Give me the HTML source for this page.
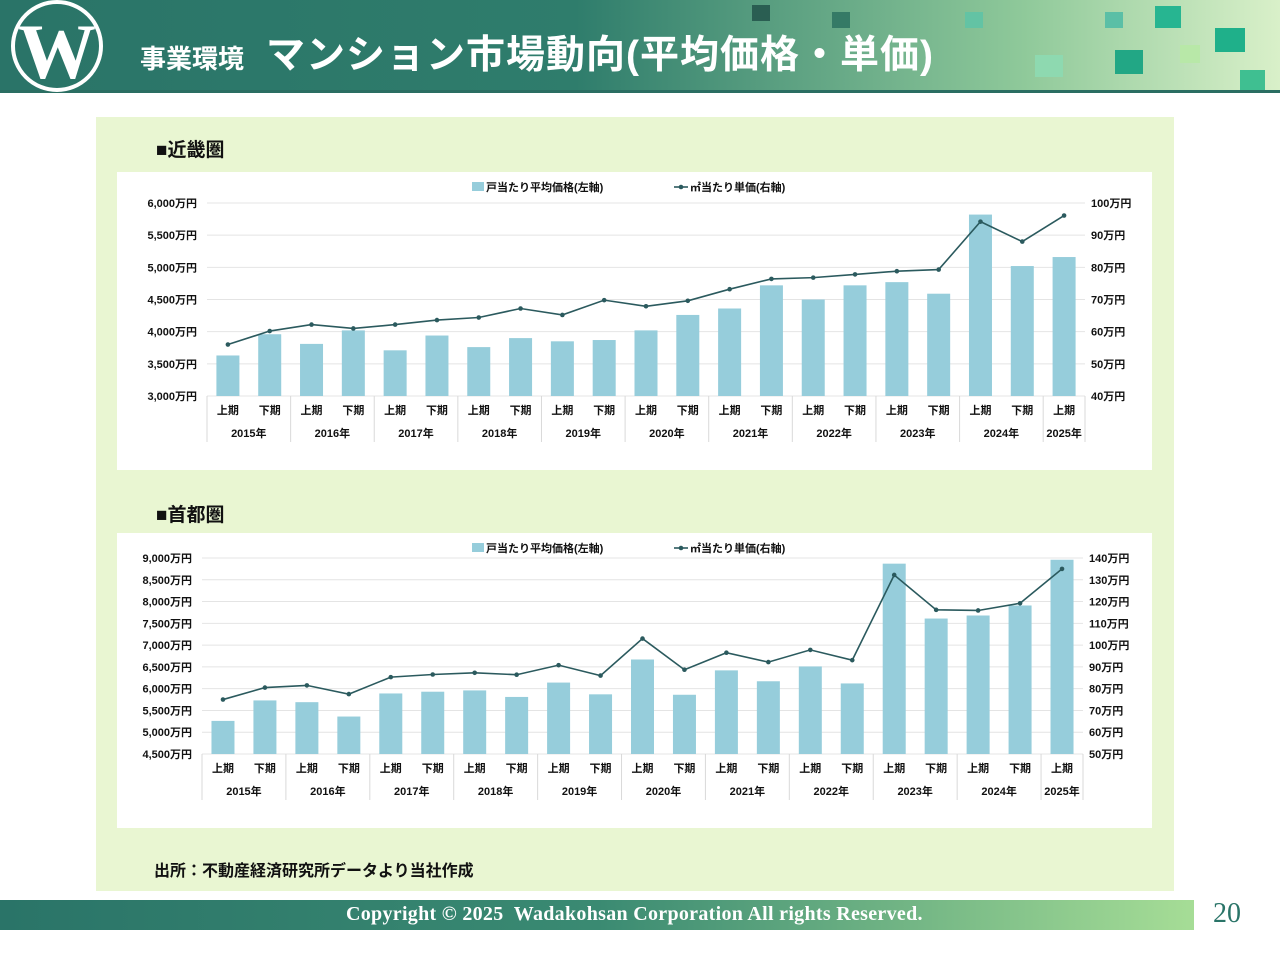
<!DOCTYPE html>
<html><head><meta charset="utf-8"><style>
body{margin:0;width:1280px;height:960px;position:relative;background:#fff;font-family:"Liberation Sans","Noto Sans CJK JP",sans-serif;overflow:hidden}
.hdr{position:absolute;left:0;top:0;width:1280px;height:92px;background:linear-gradient(90deg,#2a7468 0%,#2f7d6c 45%,#8fc99a 80%,#d9f0c9 100%)}
.hdr .line{position:absolute;left:0;top:90px;width:1280px;height:3px;background:#2a6e62}
.title{position:absolute;left:140px;top:24px;color:#fff;font-weight:bold;font-size:39px;white-space:nowrap;letter-spacing:1px}
.title small{font-size:26px;margin-right:22px;letter-spacing:0}
.sq{position:absolute}
.panel{position:absolute;left:96px;top:117px;width:1078px;height:774px;background:#e9f6d2}
.sec{position:absolute;font-weight:bold;font-size:19px;color:#111}
.card{position:absolute;background:#fff}
.foot{position:absolute;left:0;top:900px;width:1194px;height:30px;background:linear-gradient(90deg,#2a7468 0%,#3a8a72 50%,#a6dd96 100%)}
.foot span{position:absolute;left:346px;top:3px;color:#fff;font-family:"Liberation Serif",serif;font-weight:bold;font-size:20px;letter-spacing:0.3px;white-space:nowrap}
.pn{position:absolute;left:1213px;top:898px;font-family:"Liberation Serif",serif;font-size:28px;color:#2a7468}
svg text{font-family:"Liberation Sans","Noto Sans CJK JP",sans-serif;font-weight:bold;font-size:11px;fill:#111}
</style></head><body>
<div class="hdr">
<div class="line"></div>
<svg width="110" height="92" style="position:absolute;left:5px;top:0"><circle cx="52" cy="46" r="44" fill="none" stroke="#fff" stroke-width="4"/><text x="52" y="78" text-anchor="middle" style="font-family:'Liberation Serif',serif;font-size:78px;fill:#fff;font-weight:bold">W</text></svg>
<div class="title"><small>事業環境</small>マンション市場動向(平均価格・単価)</div>
<div class="sq" style="left:752px;top:5px;width:18px;height:16px;background:#2a5e52"></div>
<div class="sq" style="left:832px;top:12px;width:18px;height:16px;background:#357a66"></div>
<div class="sq" style="left:965px;top:12px;width:18px;height:16px;background:#63c3a4"></div>
<div class="sq" style="left:1105px;top:12px;width:18px;height:16px;background:#5bbfa6"></div>
<div class="sq" style="left:1155px;top:6px;width:26px;height:22px;background:#27b591"></div>
<div class="sq" style="left:1215px;top:28px;width:30px;height:24px;background:#1fb08a"></div>
<div class="sq" style="left:1115px;top:50px;width:28px;height:24px;background:#22a785"></div>
<div class="sq" style="left:1035px;top:55px;width:28px;height:22px;background:#8ed9b0"></div>
<div class="sq" style="left:1240px;top:70px;width:25px;height:20px;background:#3fbf91"></div>
<div class="sq" style="left:1180px;top:45px;width:20px;height:18px;background:#b8e8a8"></div>
</div>
<div class="panel"></div>
<div class="sec" style="left:156px;top:135px">■近畿圏</div>
<div class="sec" style="left:156px;top:500px">■首都圏</div>
<div class="card" style="left:117px;top:172px;width:1035px;height:298px"><svg id="c1" width="1035" height="298"></svg></div>
<div class="card" style="left:117px;top:533px;width:1035px;height:295px"><svg id="c2" width="1035" height="295"></svg></div>
<div class="sec" style="left:154px;top:857px;font-size:16px">出所：不動産経済研究所データより当社作成</div>
<div class="foot"><span>Copyright © 2025&nbsp; Wadakohsan Corporation All rights Reserved.</span></div>
<div class="pn">20</div>
<script>
const halves=["上期","下期","上期","下期","上期","下期","上期","下期","上期","下期","上期","下期","上期","下期","上期","下期","上期","下期","上期","下期","上期"];
const years=["2015年","2016年","2017年","2018年","2019年","2020年","2021年","2022年","2023年","2024年","2025年"];
const kinkiPrice=[3630,3960,3810,4020,3710,3940,3760,3900,3850,3870,4020,4260,4360,4720,4500,4720,4770,4590,5820,5020,5160];
const kinkiUnit=[56,60.2,62.2,61,62.2,63.6,64.4,67.2,65.2,69.8,67.9,69.6,73.2,76.4,76.8,77.8,78.8,79.3,94.2,88,96.1];
const kinkiLeftTicks=[3000,3500,4000,4500,5000,5500,6000];
const kinkiRightTicks=[40,50,60,70,80,90,100];
const shutoPrice=[5260,5730,5690,5360,5890,5930,5960,5810,6140,5870,6670,5860,6420,6170,6510,6120,8870,7610,7680,7910,8960];
const shutoUnit=[75,80.5,81.5,77.5,85.3,86.5,87.3,86.4,90.8,86,103,88.7,96.5,92.2,97.8,93.1,132.2,116.2,115.9,119.2,135];
const shutoLeftTicks=[4500,5000,5500,6000,6500,7000,7500,8000,8500,9000];
const shutoRightTicks=[50,60,70,80,90,100,110,120,130,140];
const NS="http://www.w3.org/2000/svg";
function mk(svg,tag,at,txt){const e=document.createElementNS(NS,tag);for(const k in at)e.setAttribute(k,at[k]);if(txt!==undefined)e.textContent=txt;svg.appendChild(e);return e;}
function draw(id,price,unit,lt,rt,x0,x1,y0,y1){
 const svg=document.getElementById(id);
 const lmin=lt[0],lmax=lt[lt.length-1],rmin=rt[0],rmax=rt[rt.length-1];
 const yL=v=>y1-(v-lmin)/(lmax-lmin)*(y1-y0);
 const yR=v=>y1-(v-rmin)/(rmax-rmin)*(y1-y0);
 const n=price.length,w=(x1-x0)/n,xc=i=>x0+w*(i+0.5);
 lt.forEach((t,i)=>{let g=mk(svg,'line',{x1:x0,x2:x1,y1:yL(t),y2:yL(t),stroke:'#e4e4e4'});
  let e=mk(svg,'text',{x:x0-10,y:yL(t)+4,'text-anchor':'end'},t.toLocaleString('en-US')+'万円');});
 rt.forEach(t=>{let e=mk(svg,'text',{x:x1+6,y:yR(t)+4},t+'万円');});
 price.forEach((v,i)=>{let r=mk(svg,'rect',{x:xc(i)-11.5,y:yL(v),width:23,height:y1-yL(v),fill:'#96cddb'});});
 let pts=unit.map((v,i)=>xc(i)+','+yR(v)).join(' ');
 let pl=mk(svg,'polyline',{points:pts,fill:'none',stroke:'#2b5a5e','stroke-width':1.6});
 unit.forEach((v,i)=>{let c=mk(svg,'circle',{cx:xc(i),cy:yR(v),r:2.3,fill:'#2b5a5e'});});
 halves.forEach((h,i)=>{let e=mk(svg,'text',{x:xc(i),y:y1+18,'text-anchor':'middle'},h);});
 years.forEach((yv,k)=>{const span=k<10?2:1;const cx=x0+w*(2*k+span/2);let e=mk(svg,'text',{x:cx,y:y1+41,'text-anchor':'middle'},yv);
  let s=mk(svg,'line',{x1:x0+w*2*k,x2:x0+w*2*k,y1:y1,y2:y1+46,stroke:'#d9d9d9'});});
 mk(svg,'line',{x1:x1,x2:x1,y1:y1,y2:y1+46,stroke:'#d9d9d9'});
 let lg=mk(svg,'rect',{x:355,y:10,width:12,height:9,fill:'#96cddb'});
 let t1=mk(svg,'text',{x:369,y:19},'戸当たり平均価格(左軸)');
 mk(svg,'line',{x1:557,x2:571,y1:15,y2:15,stroke:'#2b5a5e','stroke-width':1.6});mk(svg,'circle',{cx:564,cy:15,r:2.3,fill:'#2b5a5e'});
 let t2=mk(svg,'text',{x:573,y:19},'㎡当たり単価(右軸)');
}
draw('c1',kinkiPrice,kinkiUnit,kinkiLeftTicks,kinkiRightTicks,90,968,31,224);
draw('c2',shutoPrice,shutoUnit,shutoLeftTicks,shutoRightTicks,85,966,25,221);
</script>
</body></html>
